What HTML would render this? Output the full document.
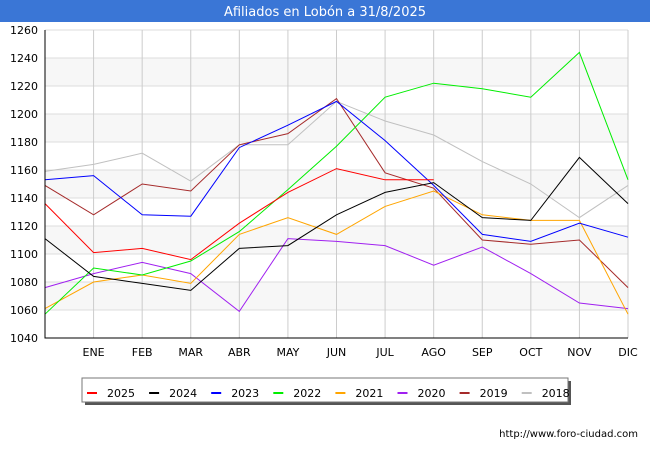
<!DOCTYPE html>
<html><head><meta charset="utf-8"><style>
body{margin:0;width:650px;height:450px;background:#fff;font-family:"Liberation Sans","DejaVu Sans",sans-serif;overflow:hidden}
</style></head><body>
<svg id="chart" width="650" height="450" xmlns="http://www.w3.org/2000/svg">
<rect x="0" y="0" width="650" height="22" fill="#3a76d6"/>
<text x="325" y="16" text-anchor="middle" fill="#fff" font-size="13" font-family="DejaVu Sans, sans-serif">Afiliados en Lobón a 31/8/2025</text>
<g id="grid"></g><g id="series"></g><g id="axes"></g>
<text x="638" y="437" text-anchor="end" font-size="10" font-family="DejaVu Sans, sans-serif" fill="#000">http://www.foro-ciudad.com</text>
<g id="legend"></g>
</svg>
<script>
const months=["","ENE","FEB","MAR","ABR","MAY","JUN","JUL","AGO","SEP","OCT","NOV","DIC"];
const yTicks=[1040,1060,1080,1100,1120,1140,1160,1180,1200,1220,1240,1260];
const years=["2025","2024","2023","2022","2021","2020","2019","2018"];
const colors=["#ff0000","#000000","#0000ff","#00ee00","#ffa500","#a020f0","#a52a2a","#c0c0c0"];
const s2025=[1136,1101,1104,1096,1122,1144,1161,1153,1153];
const s2024=[1111,1084,1079,1074,1104,1106,1128,1144,1151,1126,1124,1169,1136];
const s2023=[1153,1156,1128,1127,1176,1192,1209,1181,1149,1114,1109,1122,1112];
const s2022=[1057,1090,1085,1095,1116,1146,1177,1212,1222,1218,1212,1244,1153];
const s2021=[1061,1080,1085,1079,1114,1126,1114,1134,1145,1128,1124,1124,1057];
const s2020=[1076,1086,1094,1086,1059,1111,1109,1106,1092,1105,1086,1065,1061];
const s2019=[1149,1128,1150,1145,1178,1186,1211,1158,1147,1110,1107,1110,1076];
const s2018=[1159,1164,1172,1152,1178,1178,1209,1195,1185,1166,1150,1126,1149];
const allSeries=[s2025,s2024,s2023,s2022,s2021,s2020,s2019,s2018];
const NS="http://www.w3.org/2000/svg";
const X0=45,X1=628,Y0=338,Y1=30,VMIN=1040,VMAX=1260;
const xs=i=>X0+(X1-X0)*i/12;
const ys=v=>Y0-(v-VMIN)/(VMAX-VMIN)*(Y0-Y1);
function mk(t,a,p){const e=document.createElementNS(NS,t);for(const k in a)e.setAttribute(k,a[k]);p.appendChild(e);return e;}
const grid=document.getElementById('grid'),axes=document.getElementById('axes'),ser=document.getElementById('series'),leg=document.getElementById('legend');
for(let i=0;i<yTicks.length-1;i++){if(i%2===1){const b=mk('rect',{x:X0,y:ys(yTicks[i+1]),width:X1-X0,height:ys(yTicks[i])-ys(yTicks[i+1]),fill:'#f7f7f7'},grid);

}}
yTicks.forEach(v=>{const l=mk('line',{x1:X0,x2:X1,y1:ys(v),y2:ys(v),stroke:'#dddddd','stroke-width':1},grid);


const t=mk('text',{x:38,y:ys(v)+4,'text-anchor':'end','font-size':11,'font-family':'DejaVu Sans, sans-serif'},axes);t.textContent=v;

});
months.forEach((m,i)=>{if(i===0)return;const l=mk('line',{x1:xs(i),x2:xs(i),y1:Y1,y2:Y0,stroke:'#cccccc','stroke-width':1},grid);


const t=mk('text',{x:xs(i),y:356,'text-anchor':'middle','font-size':11,'font-family':'DejaVu Sans, sans-serif'},axes);t.textContent=m;

});
const ax=mk('path',{d:`M${X0} ${Y1}V${Y0}H${X1}`,fill:'none',stroke:'#000','stroke-width':1},axes);


for(let k=allSeries.length-1;k>=0;k--){const d=allSeries[k].map((v,i)=>(i?'L':'M')+xs(i).toFixed(1)+' '+ys(v).toFixed(1)).join('');
const p=mk('path',{d:d,fill:'none',stroke:colors[k],'stroke-width':1},ser);

}
const sh=mk('rect',{x:85,y:381,width:486,height:24,fill:'#555'},leg);


const box=mk('rect',{x:82,y:378,width:486,height:24,fill:'#fff',stroke:'#777','stroke-width':1},leg);


years.forEach((y,k)=>{const x=87+k*62.1;
const g=mk('g',{},leg);


mk('rect',{x:x,y:392,width:10,height:2,fill:colors[k]},g);
const t=mk('text',{x:x+20,y:397,'font-size':11,'font-family':'DejaVu Sans, sans-serif'},g);t.textContent=y;});
</script>
</body></html>
